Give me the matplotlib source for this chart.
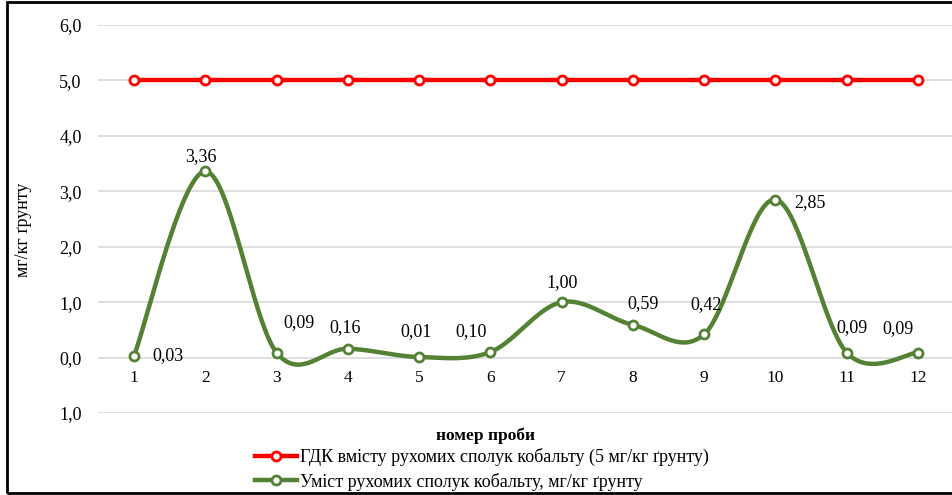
import numpy as np
import matplotlib
matplotlib.use("Agg")
import matplotlib.pyplot as plt
from matplotlib.patches import Rectangle

plt.rcParams['font.family'] = ['Liberation Serif', 'DejaVu Serif']

samples = list(range(1, 13))
gdk = [5.0] * 12
cobalt = [0.03, 3.36, 0.09, 0.16, 0.01, 0.10, 1.00, 0.59, 0.42, 2.85, 0.09, 0.09]
y_ticks = [-1, 0, 1, 2, 3, 4, 5, 6]
y_tick_labels = ['1,0', '0,0', '1,0', '2,0', '3,0', '4,0', '5,0', '6,0']
# label offsets (px) relative to each point
label_offsets = [(34, 0), (-4, 15), (22, 30), (-3, 21), (-3, 25), (-19, 20),
                 (0, 20), (10, 21), (2, 30), (35, -3), (5, 25), (-20, 24)]

red = '#ff0000'
green = '#548235'


def smooth(xs, ys, n=40):
    # Catmull-Rom bezier like Excel's smoothed line
    xs = np.asarray(xs, float)
    ys = np.asarray(ys, float)
    px = np.concatenate([[xs[0]], xs, [xs[-1]]])
    py = np.concatenate([[ys[0]], ys, [ys[-1]]])
    out_x, out_y = [], []
    t = np.linspace(0, 1, n)
    for i in range(1, len(px) - 2):
        p0 = np.array([px[i], py[i]])
        p3 = np.array([px[i + 1], py[i + 1]])
        c1 = p0 + (np.array([px[i + 1], py[i + 1]]) - np.array([px[i - 1], py[i - 1]])) / 6
        c2 = p3 - (np.array([px[i + 2], py[i + 2]]) - np.array([px[i], py[i]])) / 6
        b = (((1 - t) ** 3)[:, None] * p0 + (3 * (1 - t) ** 2 * t)[:, None] * c1
             + (3 * (1 - t) * t ** 2)[:, None] * c2 + (t ** 3)[:, None] * p3)
        out_x.extend(b[:, 0])
        out_y.extend(b[:, 1])
    return out_x, out_y


fig = plt.figure(figsize=(9.52, 4.95), dpi=100)
ax = fig.add_axes([98.4 / 952, 82 / 495, 855.2 / 952, 388 / 495])
ax.set_xlim(0.5, 12.5)
ax.set_ylim(-1, 6)

for s in ax.spines.values():
    s.set_visible(False)
ax.set_yticks(y_ticks)
ax.set_yticklabels(y_tick_labels, fontsize=13)
ax.set_xticks(samples)
ax.set_xticklabels([str(s) for s in samples], fontsize=12.5)
ax.tick_params(length=0)
ax.tick_params(axis='y', pad=12)
ax.tick_params(axis='x', pad=-31)
ax.grid(axis='y', color='#d9d9d9', linewidth=1.2)
ax.set_axisbelow(True)

mk = dict(marker='o', markersize=6.5, markerfacecolor='white', markeredgewidth=2)
ax.plot(samples, gdk, color=red, linewidth=3.2, markeredgecolor=red, **mk,
        label='ГДК вмісту рухомих сполук кобальту (5 мг/кг ґрунту)')
sx, sy = smooth(samples, cobalt)
ax.plot(sx, sy, color=green, linewidth=3.2, solid_capstyle='round')
ax.plot(samples, cobalt, linestyle='none', markeredgecolor=green, **mk)
ax.plot([], [], color=green, linewidth=3.2, markeredgecolor=green, **mk,
        label='Уміст рухомих сполук кобальту, мг/кг ґрунту')

for x, y, (dx, dy) in zip(samples, cobalt, label_offsets):
    ax.annotate(f'{y:.2f}'.replace('.', ','), (x, y), xytext=(dx * 0.72, dy * 0.72),
                textcoords='offset points', ha='center', va='center', fontsize=13)

ax.set_ylabel('мг/кг ґрунту', fontsize=13, labelpad=0)
ax.yaxis.set_label_coords(-66 / 855.2, (495 - 230 - 82) / 388)
ax.set_xlabel('номер проби', fontsize=12.5, fontweight='bold')
ax.xaxis.set_label_coords((485 - 98.4) / 855.2, -(427 - 413) / 388)

h, l = ax.get_legend_handles_labels()
fig.legend(h, l, loc='upper left', bbox_to_anchor=(248 / 952, 1 - 441 / 495),
           frameon=False, fontsize=13, handlelength=2.3, handletextpad=0.2,
           labelspacing=0.35, borderaxespad=0)

fig.patches.append(Rectangle((7 / 952, 2 / 495), 1.2, 491 / 495, transform=fig.transFigure,
                             fill=False, edgecolor='black', linewidth=2, clip_on=False))

fig.savefig('out.png', dpi=100)
